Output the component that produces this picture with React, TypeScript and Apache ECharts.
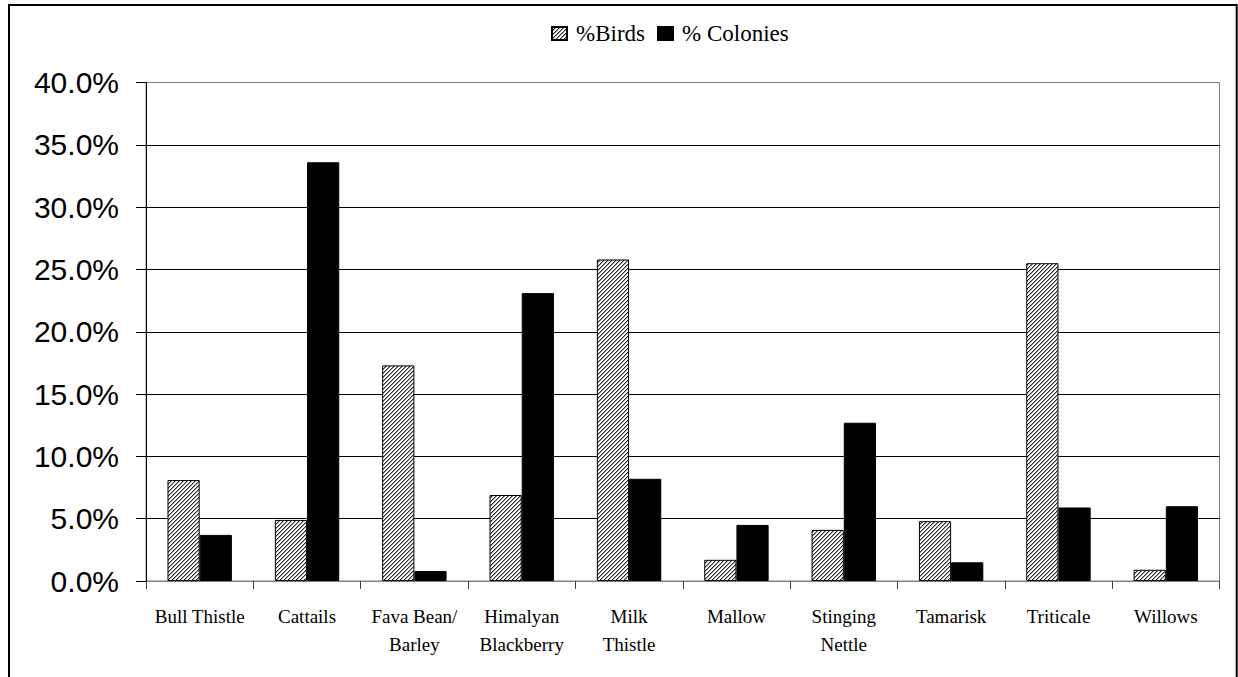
import React, { useEffect, useRef } from "react";
import * as echarts from "echarts";

const categories = [
  "Bull Thistle",
  "Cattails",
  "Fava Bean/\nBarley",
  "Himalyan\nBlackberry",
  "Milk\nThistle",
  "Mallow",
  "Stinging\nNettle",
  "Tamarisk",
  "Triticale",
  "Willows",
];
const birds = [8.1, 4.9, 17.3, 6.9, 25.8, 1.7, 4.1, 4.8, 25.5, 0.9];
const colonies = [3.7, 33.6, 0.8, 23.1, 8.2, 4.5, 12.7, 1.5, 5.9, 6.0];
const seriesNames = ["%Birds", "% Colonies"];

const SERIF = "'Liberation Serif', 'Times New Roman', serif";
const SANS = "'Liberation Sans', Arial, sans-serif";

function makeHatch(): HTMLCanvasElement {
  const c = document.createElement("canvas");
  c.width = 4;
  c.height = 4;
  const ctx = c.getContext("2d")!;
  ctx.fillStyle = "#ffffff";
  ctx.fillRect(0, 0, 4, 4);
  ctx.fillStyle = "#2a2a2a";
  for (let i = 0; i < 4; i++) {
    ctx.fillRect(i, 3 - i, 1, 1);
  }
  ctx.fillStyle = "#9a9a9a";
  for (let i = 0; i < 4; i++) {
    ctx.fillRect(i, (4 - i) % 4, 1, 1);
  }
  return c;
}

export default function App() {
  const ref = useRef<HTMLDivElement>(null);
  useEffect(() => {
    const chart = echarts.init(ref.current!, undefined, { renderer: "svg" });
    const hatch = makeHatch();
    chart.setOption({
      animation: false,
      backgroundColor: "#ffffff",
      graphic: [
        {
          type: "rect",
          shape: { x: 9, y: 5, width: 1227.7, height: 700 },
          style: { fill: "none", stroke: "#000", lineWidth: 2 },
          z: 100,
        },
      ],
      legend: {
        left: 546,
        top: 17,
        itemWidth: 15,
        itemHeight: 13,
        itemGap: 12,
        icon: "rect",
        textStyle: {
          fontFamily: SERIF,
          fontSize: 23,
          color: "#000",
          padding: [0, 0, 0, 4],
        },
        data: seriesNames,
      },
      grid: {
        left: 146,
        top: 82.5,
        right: 18.5,
        bottom: 96,
        show: true,
        borderColor: "#808080",
        borderWidth: 1,
        containLabel: false,
      },
      xAxis: {
        type: "category",
        data: categories,
        axisLine: { lineStyle: { color: "#808080", width: 1 } },
        axisTick: { show: true, length: 8, lineStyle: { color: "#404040" } },
        axisLabel: {
          interval: 0,
          margin: 21,
          fontFamily: SERIF,
          fontSize: 19,
          lineHeight: 28,
          color: "#000",
        },
      },
      yAxis: {
        type: "value",
        min: 0,
        max: 40,
        interval: 5,
        axisLine: { show: true, lineStyle: { color: "#000", width: 1 } },
        axisTick: { show: true, length: 10, lineStyle: { color: "#000" } },
        splitLine: {
          show: true,
          lineStyle: {
            color: ["#808080", "#000", "#000", "#000", "#000", "#000", "#000", "#000", "#808080"],
            width: 1,
          },
        },
        axisLabel: {
          margin: 27,
          fontFamily: SANS,
          fontSize: 30,
          color: "#000",
          formatter: (v: number) => v.toFixed(1) + "%",
        },
      },
      series: [
        {
          name: seriesNames[0],
          type: "bar",
          data: birds,
          barGap: "0%",
          barCategoryGap: "40%",
          itemStyle: {
            color: { image: hatch, repeat: "repeat" },
            borderColor: "#000",
            borderWidth: 1,
          },
        },
        {
          name: seriesNames[1],
          type: "bar",
          data: colonies,
          barGap: "0%",
          barCategoryGap: "40%",
          itemStyle: { color: "#000", borderColor: "#000", borderWidth: 1 },
        },
      ],
    });
    return () => chart.dispose();
  }, []);
  return (
    <div
      ref={ref}
      style={{ position: "fixed", left: 0, top: 0, width: 1238, height: 677 }}
    />
  );
}
